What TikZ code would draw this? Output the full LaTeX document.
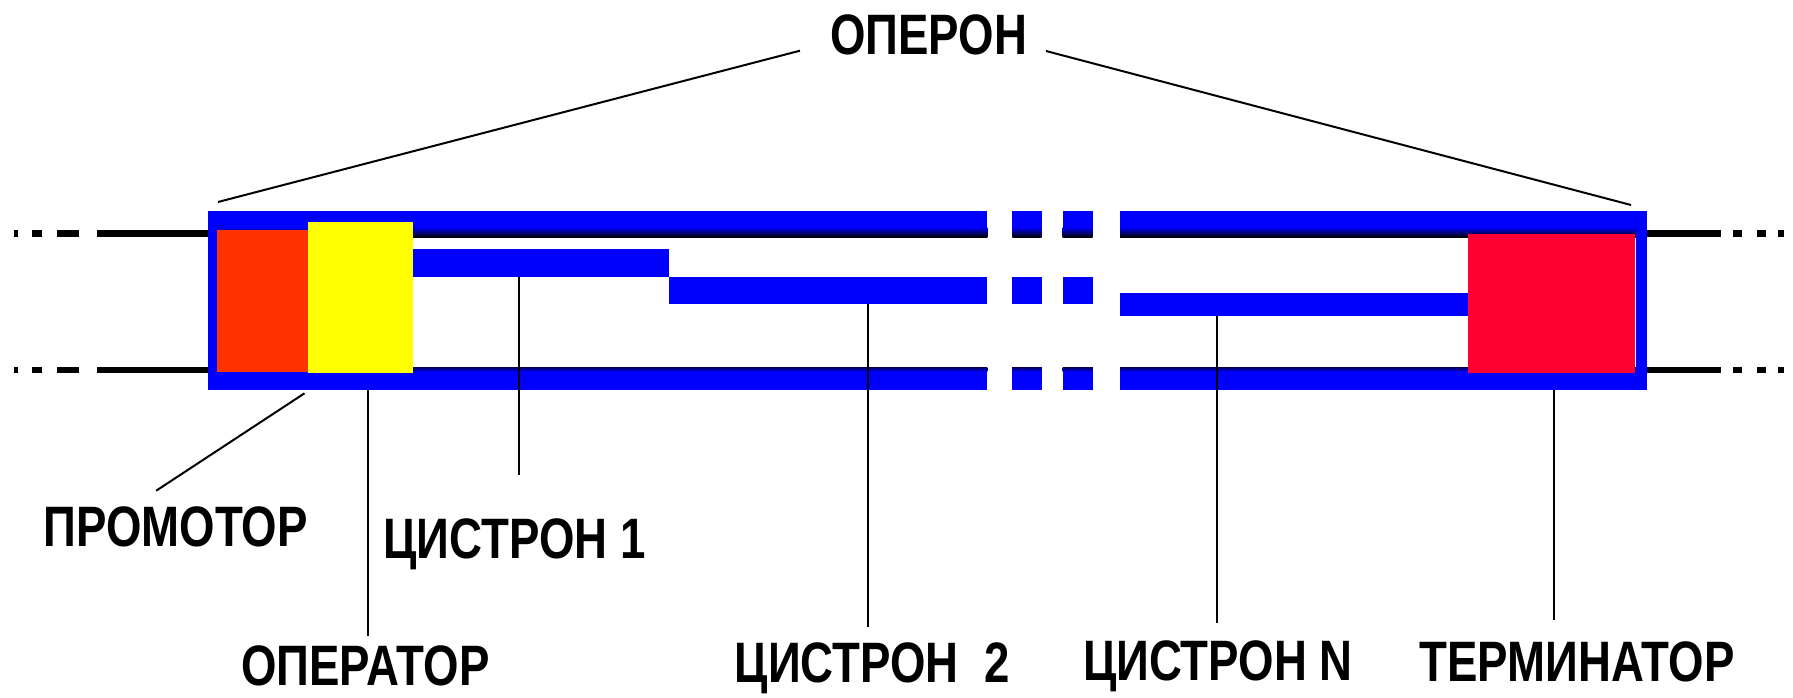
\documentclass[tikz,border=0pt]{standalone}
\usepackage{fontspec}
\newfontfamily\labfont{Liberation Sans}[FakeStretch=0.8]
\definecolor{dnablue}{RGB}{0,0,255}
\definecolor{promo}{RGB}{255,51,0}
\definecolor{oper}{RGB}{255,255,0}
\definecolor{term}{RGB}{255,0,51}
\begin{document}
\begin{tikzpicture}[x=1pt,y=-1pt,
  lab/.style={font=\labfont\bfseries\fontsize{57}{60}\selectfont, inner sep=0pt, text depth=0pt, anchor=base west},
  lead/.style={black, line width=2pt},
  dnafill/.style={fill=dnablue}]
\useasboundingbox (0,0) rectangle (1793,698);
\fill[white] (0,0) rectangle (1793,698);

% black DNA strands outside the operon
\foreach \ya/\yb in {230/237, 366.7/373.3}{
  \fill[black] (13.8,\ya) rectangle (17.8,\yb);
  \fill[black] (31.6,\ya) rectangle (41.5,\yb);
  \fill[black] (57.3,\ya) rectangle (79,\yb);
  \fill[black] (96.8,\ya) rectangle (210,\yb);
  \fill[black] (1645,\ya) rectangle (1721,\yb);
  \fill[black] (1733,\ya) rectangle (1741.7,\yb);
  \fill[black] (1757.2,\ya) rectangle (1766,\yb);
  \fill[black] (1778,\ya) rectangle (1784,\yb);
}

% top and bottom strands of the operon (broken in the middle)
\foreach \a/\b in {208/987.3, 1012.3/1041.7, 1062.7/1092.7, 1120/1646.5}{
  \fill[dnafill] (\a,210.5) rectangle (\b,237.3);
  \shade[top color=dnablue, bottom color=black] (\a,227) rectangle (\b,237.3);
  \fill[dnafill] (\a,367) rectangle (\b,389.5);
  \shade[top color=black!70!dnablue, bottom color=dnablue] (\a,367) rectangle (\b,371.5);
}
% side walls
\fill[dnafill] (208,210.5) rectangle (216.7,389.5);
\fill[dnafill] (1636,210.5) rectangle (1646.5,389.5);

% cistrons
\fill[dnafill] (413.3,249.3) rectangle (669,276.7);
\fill[dnafill] (669,276.7) rectangle (987.3,304);
\fill[dnafill] (1012.3,276.7) rectangle (1041.7,304);
\fill[dnafill] (1062.7,276.7) rectangle (1092.7,304);
\fill[dnafill] (1120,292.7) rectangle (1468,315.5);

% promoter, operator, terminator
\fill[promo] (216.7,230) rectangle (308.3,372);
\fill[oper] (308.3,221.7) rectangle (413.3,373);
\fill[term] (1468,234) rectangle (1635,373.3);

% labels
\node[lab] (operon) at (830,55) {ОПЕРОН};
\node[lab] (promlab) at (43.5,546.7) {ПРОМОТОР};
\node[lab] (cis1lab) at (383.5,558.3) {ЦИСТРОН 1};
\node[lab] (operlab) at (241,685) {ОПЕРАТОР};
\node[lab] (cis2lab) at (734.7,682) {ЦИСТРОН\ \ 2};
\node[lab] (cisNlab) at (1082.8,680) {ЦИСТРОН N};
\node[lab] (termlab) at (1419.3,681.7) {ТЕРМИНАТОР};

% leader end points
\coordinate (opL) at (800,50.7);
\coordinate (opR) at (1046,51);
\coordinate (boxTL) at (218,202);
\coordinate (boxTR) at (1631,205);
\coordinate (promA) at (304.5,393.3);
\coordinate (promB) at (156.2,490.7);
\coordinate (operA) at (367.7,389.3);
\coordinate (operB) at (367.7,636);
\coordinate (cis1A) at (518.8,276.7);
\coordinate (cis1B) at (518.8,475);
\coordinate (cis2A) at (867.8,304);
\coordinate (cis2B) at (867.8,626.7);
\coordinate (cisNA) at (1216.6,315.5);
\coordinate (cisNB) at (1216.6,623.3);
\coordinate (termA) at (1553.5,389.5);
\coordinate (termB) at (1553.5,620);

\draw[lead] (opL) -- (boxTL);
\draw[lead] (opR) -- (boxTR);
\draw[lead] (promA) -- (promB);
\draw[lead] (operA) -- (operB);
\draw[lead] (cis1A) -- (cis1B);
\draw[lead] (cis2A) -- (cis2B);
\draw[lead] (cisNA) -- (cisNB);
\draw[lead] (termA) -- (termB);
\end{tikzpicture}
\end{document}
